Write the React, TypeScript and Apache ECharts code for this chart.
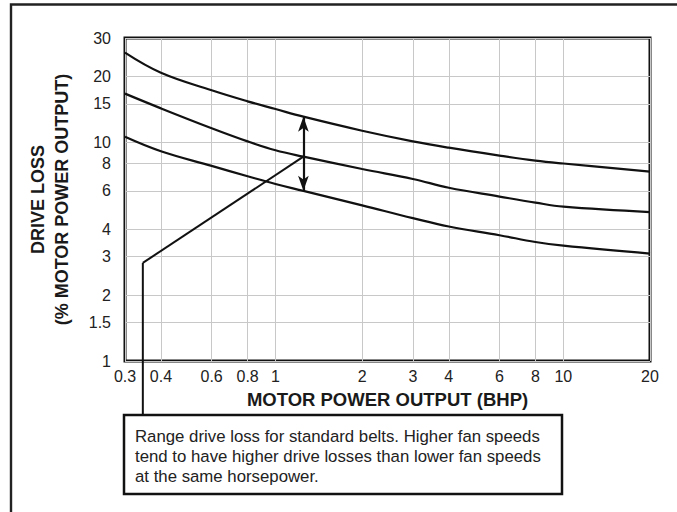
import React, { useEffect, useRef } from "react";
import * as echarts from "echarts";

// Tick values (log-log chart)
const xTicks = [0.3, 0.4, 0.6, 0.8, 1, 2, 3, 4, 6, 8, 10, 20];
const yTicks = [1, 1.5, 2, 3, 4, 6, 8, 10, 15, 20, 30];

// Motor power output (BHP) where the curves were read
const bhp = [0.3, 0.4, 0.6, 0.8, 1, 1.25, 2, 3, 4, 6, 8, 10, 20];
// Drive loss (% of motor power output)
const highLoss = [25.7, 20.8, 17.3, 15.4, 14.2, 13.1, 11.3, 10.1, 9.45, 8.7, 8.25, 8.0, 7.35];
const midLoss = [16.7, 14.3, 11.6, 10.1, 9.2, 8.6, 7.55, 6.8, 6.2, 5.65, 5.3, 5.08, 4.8];
const lowLoss = [10.6, 9.1, 7.8, 7.0, 6.45, 6.0, 5.15, 4.5, 4.12, 3.76, 3.5, 3.37, 3.1];

// Annotation
const arrowIndex = 5; // at 1.25 BHP
const calloutElbow = [0.346, 2.81];
const noteLines = [
  "Range drive loss for standard belts. Higher fan speeds",
  "tend to have higher drive losses than lower fan speeds",
  "at the same horsepower.",
];

const xTitle = "MOTOR POWER OUTPUT (BHP)";
const yTitle = "DRIVE LOSS\n(% MOTOR POWER OUTPUT)";

export default function App() {
  const ref = useRef<HTMLDivElement>(null);
  useEffect(() => {
    document.body.style.margin = "0";
    const el = ref.current!;
    const chart = echarts.init(el, null, { renderer: "svg" });
    const lg = Math.log10;
    const toPts = (ys: number[]) => bhp.map((x, i) => [lg(x), lg(ys[i])]);
    const fmt = (ticks: number[]) => (v: number) => {
      let best = ticks[0];
      for (const t of ticks) if (Math.abs(lg(t) - v) < Math.abs(lg(best) - v)) best = t;
      return String(best);
    };
    const font = "Arial, 'Liberation Sans', Helvetica, sans-serif";
    const ink = "#111";
    const curve = (name: string, ys: number[], extra: any = {}) => ({
      name,
      type: "line",
      data: toPts(ys),
      showSymbol: false,
      smooth: 0.4,
      lineStyle: { color: ink, width: 2.2 },
      silent: true,
      ...extra,
    });

    chart.setOption({
      animation: false,
      grid: {
        left: 125,
        top: 38,
        right: 27,
        bottom: 151,
        show: true,
        borderColor: ink,
        borderWidth: 3,
        backgroundColor: "transparent",
      },
      xAxis: {
        type: "value",
        min: lg(xTicks[0]),
        max: lg(xTicks[xTicks.length - 1]),
        name: xTitle,
        nameLocation: "middle",
        nameGap: 29,
        nameTextStyle: { fontFamily: font, fontWeight: "bold", fontSize: 18.5, color: "#1a1a1a" },
        axisLine: { show: false },
        axisTick: { show: false, customValues: xTicks.map(lg) },
        axisLabel: {
          customValues: xTicks.map(lg),
          formatter: fmt(xTicks),
          fontFamily: font,
          fontSize: 16,
          color: "#222",
          margin: 7,
        },
        splitLine: { show: true, lineStyle: { color: "#c8c8c8", width: 1 } },
      },
      yAxis: {
        type: "value",
        min: lg(yTicks[0]),
        max: lg(yTicks[yTicks.length - 1]),
        name: yTitle,
        nameLocation: "middle",
        nameGap: 51,
        nameRotate: 90,
        nameTextStyle: { fontFamily: font, fontWeight: "bold", fontSize: 18, color: "#1a1a1a", lineHeight: 24 },
        axisLine: { show: false },
        axisTick: { show: false, customValues: yTicks.map(lg) },
        axisLabel: {
          customValues: yTicks.map(lg),
          formatter: fmt(yTicks),
          fontFamily: font,
          fontSize: 16,
          color: "#222",
          margin: 14,
        },
        splitLine: { show: true, lineStyle: { color: "#c8c8c8", width: 1 } },
      },
      series: [
        curve("high", highLoss),
        curve("mid", midLoss, {
          markLine: {
            silent: true,
            symbol: ["arrow", "arrow"],
            symbolSize: [8, 15],
            lineStyle: { color: ink, width: 2.2, type: "solid" },
            label: { show: false },
            data: [
              [
                { coord: [lg(bhp[arrowIndex]), lg(highLoss[arrowIndex])] },
                { coord: [lg(bhp[arrowIndex]), lg(lowLoss[arrowIndex])] },
              ],
            ],
          },
        }),
        curve("low", lowLoss),
        {
          name: "callout",
          type: "line",
          data: [
            [lg(bhp[arrowIndex]), lg(midLoss[arrowIndex])],
            [lg(calloutElbow[0]), lg(calloutElbow[1])],
          ],
          showSymbol: false,
          lineStyle: { color: ink, width: 2 },
          silent: true,
        },
      ],
    });

    const elbow = chart.convertToPixel({ gridIndex: 0 }, [lg(calloutElbow[0]), lg(calloutElbow[1])]) as number[];
    const boxX = 124, boxY = 415, boxW = 438, boxH = 79;
    chart.setOption({
      graphic: [
        {
          type: "rect",
          shape: { x: 11, y: 4.5, width: 900, height: 700 },
          style: { fill: "none", stroke: "#222", lineWidth: 2.4 },
          silent: true,
          z: 0,
        },
        {
          type: "line",
          shape: { x1: elbow[0], y1: elbow[1], x2: elbow[0], y2: boxY },
          style: { stroke: ink, lineWidth: 2 },
          silent: true,
        },
        {
          type: "rect",
          shape: { x: boxX, y: boxY, width: boxW, height: boxH },
          style: { fill: "#fff", stroke: ink, lineWidth: 2.5 },
          silent: true,
        },
        {
          type: "text",
          x: boxX + 11,
          y: boxY + 11,
          style: {
            text: noteLines.join("\n"),
            fontFamily: font,
            fontSize: 16.8,
            lineHeight: 20,
            fill: "#222",
            verticalAlign: "top",
          },
          silent: true,
        },
      ],
    });

    return () => chart.dispose();
  }, []);
  return <div ref={ref} style={{ width: 677, height: 512 }} />;
}
